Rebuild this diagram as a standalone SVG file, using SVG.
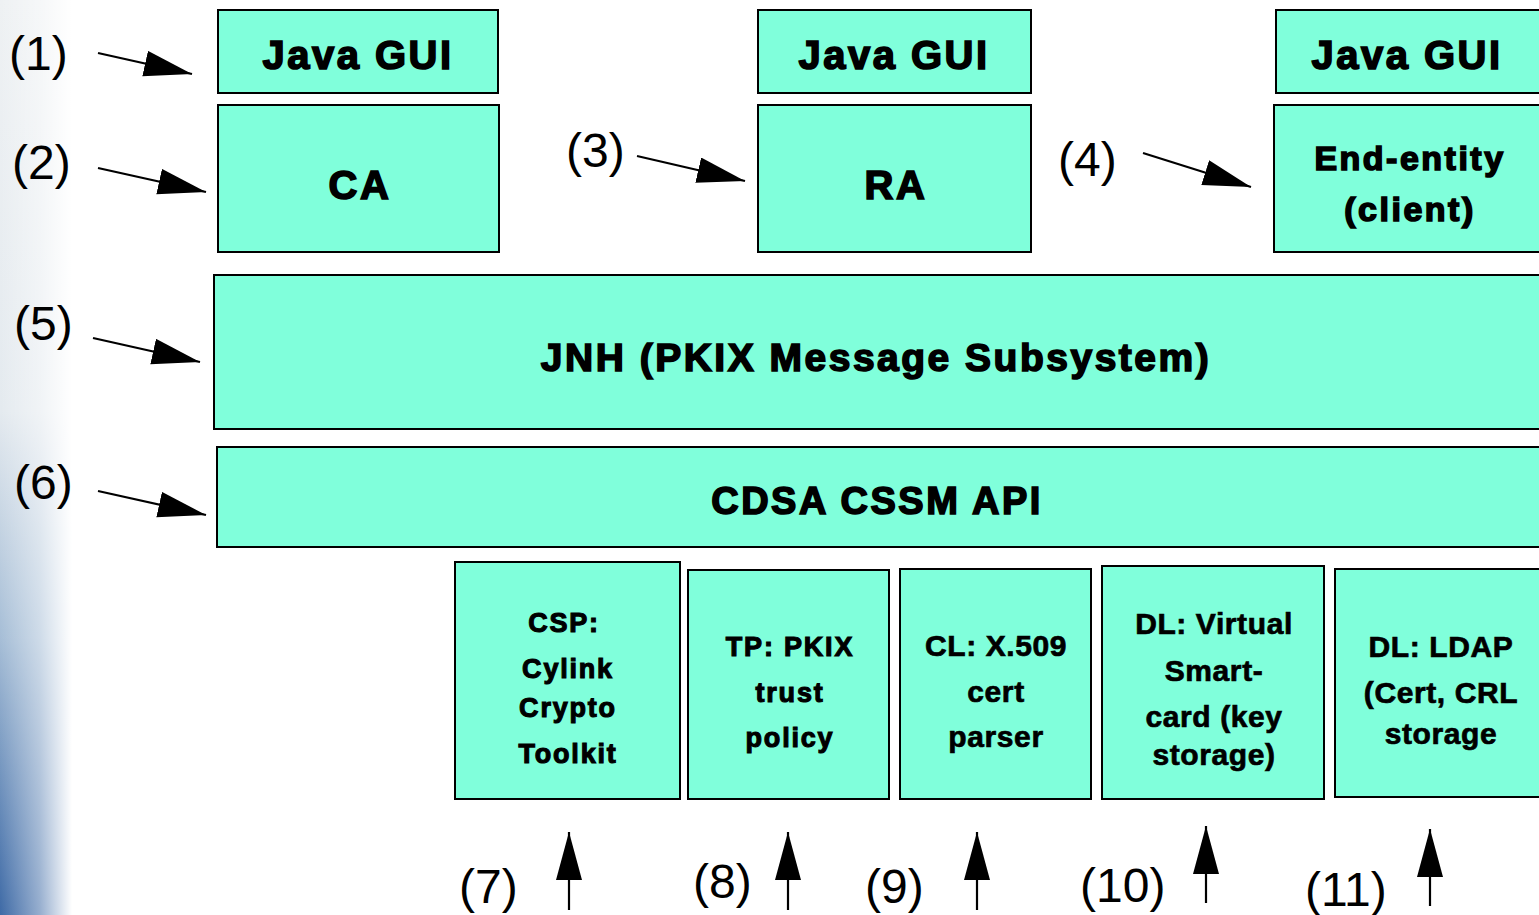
<svg xmlns="http://www.w3.org/2000/svg" width="1539" height="915" viewBox="0 0 1539 915">
<style>
.box{fill:#80ffdb;stroke:#000;stroke-width:2}
.t{font-family:"Liberation Sans",Arial,sans-serif;font-weight:bold;fill:#000;stroke:#000;stroke-width:1.6;text-anchor:middle;letter-spacing:2.5px}
.s{font-family:"Liberation Sans",Arial,sans-serif;font-weight:bold;fill:#000;stroke:#000;stroke-width:1.1;text-anchor:middle;letter-spacing:1.8px;font-size:27px}
.n{font-family:"Liberation Sans Narrow","Liberation Sans",Arial,sans-serif;font-weight:bold;fill:#000;stroke:#000;stroke-width:0.7;text-anchor:middle;letter-spacing:0.6px;font-size:30px}
.lab{font-family:"Liberation Sans",Arial,sans-serif;font-size:48px;fill:#000}
.ar{stroke:#000;stroke-width:2.2;fill:none;marker-end:url(#ah)}
</style>
<defs>
<marker id="ah" markerUnits="userSpaceOnUse" markerWidth="50" markerHeight="28" refX="48" refY="13" orient="auto">
<path d="M0,0 L48,13 L0,26 Z" fill="#000"/>
</marker>
<linearGradient id="bgv" x1="0" y1="0" x2="0" y2="1">
<stop offset="0" stop-color="#eef1f3"/>
<stop offset="0.45" stop-color="#e4eaef"/>
<stop offset="0.7" stop-color="#a5bdd6"/>
<stop offset="1" stop-color="#3e6aa6"/>
</linearGradient>
<linearGradient id="bgh" x1="0" y1="0" x2="1" y2="0">
<stop offset="0" stop-color="#fff" stop-opacity="0"/>
<stop offset="0.55" stop-color="#fff" stop-opacity="0.45"/>
<stop offset="1" stop-color="#fff" stop-opacity="1"/>
</linearGradient>
</defs>
<rect width="1539" height="915" fill="#fff"/>
<g id="background">
<rect x="0" y="0" width="72" height="915" fill="url(#bgv)"/>
<rect x="0" y="0" width="72" height="915" fill="url(#bgh)"/>
</g>
<g id="gui1"><rect class="box" x="218" y="10" width="280" height="83"/><text class="t" x="358" y="69" font-size="40">Java GUI</text></g>
<g id="ca"><rect class="box" x="218" y="105" width="281" height="147"/><text class="t" x="360" y="199" font-size="40">CA</text></g>
<g id="gui2"><rect class="box" x="758" y="10" width="273" height="83"/><text class="t" x="894" y="69" font-size="40">Java GUI</text></g>
<g id="ra"><rect class="box" x="758" y="105" width="273" height="147"/><text class="t" x="896" y="199" font-size="40">RA</text></g>
<g id="gui3"><rect class="box" x="1276" y="10" width="270" height="83"/><text class="t" x="1407" y="69" font-size="40">Java GUI</text></g>
<g id="ee"><rect class="box" x="1274" y="105" width="272" height="147"/><text class="t" x="1410" y="170" font-size="34" letter-spacing="1.5">End-entity</text><text class="t" x="1410" y="221" font-size="34" letter-spacing="1.5">(client)</text></g>
<g id="jnh"><rect class="box" x="214" y="275" width="1332" height="154"/><text class="t" x="876" y="371" font-size="39">JNH (PKIX Message Subsystem)</text></g>
<g id="cdsa"><rect class="box" x="217" y="447" width="1329" height="100"/><text class="t" x="877" y="514" font-size="38">CDSA CSSM API</text></g>
<g id="csp"><rect class="box" x="455" y="562" width="225" height="237"/>
<text class="s" x="564" y="632">CSP:</text>
<text class="s" x="568" y="678">Cylink</text>
<text class="s" x="568" y="717">Crypto</text>
<text class="s" x="568" y="763">Toolkit</text></g>
<g id="tp"><rect class="box" x="688" y="570" width="201" height="229"/>
<text class="s" x="790" y="656">TP: PKIX</text>
<text class="s" x="790" y="702">trust</text>
<text class="s" x="790" y="747">policy</text></g>
<g id="cl"><rect class="box" x="900" y="569" width="191" height="230"/>
<text class="n" x="996" y="656">CL: X.509</text>
<text class="n" x="996" y="702">cert</text>
<text class="n" x="996" y="747">parser</text></g>
<g id="dlv"><rect class="box" x="1102" y="566" width="222" height="233"/>
<text class="n" x="1214" y="634">DL: Virtual</text>
<text class="n" x="1214" y="681">Smart-</text>
<text class="n" x="1214" y="727">card (key</text>
<text class="n" x="1214" y="765">storage)</text></g>
<g id="dll"><rect class="box" x="1335" y="569" width="211" height="228"/>
<text class="n" x="1441" y="657">DL: LDAP</text>
<text class="n" x="1441" y="703">(Cert, CRL</text>
<text class="n" x="1441" y="744">storage</text></g>
<g id="labels">
<text class="lab" x="9" y="70">(1)</text>
<text class="lab" x="12" y="179">(2)</text>
<text class="lab" x="566" y="167">(3)</text>
<text class="lab" x="1058" y="176">(4)</text>
<text class="lab" x="14" y="340">(5)</text>
<text class="lab" x="14" y="499">(6)</text>
<text class="lab" x="459" y="903">(7)</text>
<text class="lab" x="693" y="898">(8)</text>
<text class="lab" x="865" y="903">(9)</text>
<text class="lab" x="1080" y="902">(10)</text>
<text class="lab" x="1305" y="906">(11)</text>
</g>
<g id="connectors">
<line class="ar" x1="98" y1="53" x2="192" y2="74"/>
<line class="ar" x1="98" y1="168" x2="206" y2="192"/>
<line class="ar" x1="637" y1="156" x2="745" y2="181"/>
<line class="ar" x1="1143" y1="153" x2="1251" y2="187"/>
<line class="ar" x1="93" y1="338" x2="200" y2="362"/>
<line class="ar" x1="98" y1="491" x2="206" y2="515"/>
<line class="ar" x1="569" y1="910" x2="569" y2="832"/>
<line class="ar" x1="788" y1="910" x2="788" y2="832"/>
<line class="ar" x1="977" y1="910" x2="977" y2="832"/>
<line class="ar" x1="1206" y1="903" x2="1206" y2="826"/>
<line class="ar" x1="1430" y1="906" x2="1430" y2="829"/>
</g>
</svg>
